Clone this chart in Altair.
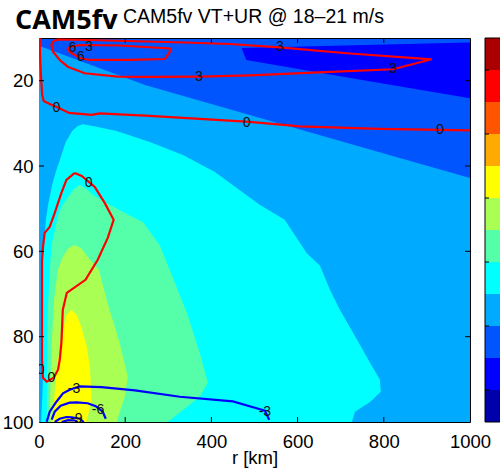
import altair as alt
import pandas as pd

# ---------------- axes / scales ----------------
x_ticks = [0, 200, 400, 600, 800, 1000]
y_ticks = [20, 40, 60, 80, 100]
x_domain = [0, 1000]
y_domain = [10, 100]

title_main = "CAM5fv"
title_sub = "CAM5fv VT+UR @ 18\u201321 m/s"
x_title = "r [km]"

# jet(12) colour levels, lowest first
jet12 = ["#0000AA", "#0000FF", "#0055FF", "#00AAFF", "#00FFFF", "#55FFAA",
         "#AAFF55", "#FFFF00", "#FFAA00", "#FF5500", "#FF0000", "#AA0000"]
background_level = "#0055FF"

# ---------------- filled VT regions (level, r_left, r_right) ----------------
lightblue_lev = [11.4, 12.04, 12.93, 17.1, 21.0, 28.06, 34.78, 42.79, 100]
lightblue_r1 = [0, 0, 0, 0, 0, 0, 0, 0, 0]
lightblue_r2 = [0, 5.6, 29.5, 141, 246, 489, 721, 1000, 1000]

darkblue_lev = [11.05, 11.4, 11.87, 12.34, 15.15, 20.0, 24.1]
darkblue_r1 = [997, 854, 662, 470, 481, 760, 1000]
darkblue_r2 = [1000, 1000, 1000, 1000, 1000, 1000, 1000]

cyan_lev = [30.2, 30.6, 31.8, 34.4, 37.4, 41.4, 44.0, 49.1, 52.6, 60.4, 63.4, 69.0,
            73.7, 80.7, 86.1, 90.1, 92.9, 95.3, 97.6, 100]
cyan_r1 = [102, 90, 77, 62, 52, 39, 31.5, 21, 16, 10, 9.3, 9.3,
           9.3, 9.3, 9.3, 9, 8, 7, 6, 5]
cyan_r2 = [102, 125, 180, 257, 334, 408, 443, 512, 570, 621, 652, 675,
           698, 738, 768, 791, 793, 768, 733, 726]

aqua_lev = [44.4, 45.5, 46.8, 49.1, 51.0, 53.1, 58.5, 66.0, 74.9, 83.8, 90.8, 94.1, 100]
aqua_r1 = [94, 80, 71, 55, 46, 41, 29, 24, 20, 19.5, 18.6, 18.3, 18]
aqua_r2 = [94, 112, 125, 164, 199, 241, 280, 310, 345, 373, 392, 373, 299]

ygreen_lev = [58.5, 59.3, 61.3, 64.3, 71.4, 81.4, 89.4, 94.1, 100]
ygreen_r1 = [83, 68, 55, 44, 35, 29.5, 27, 26, 25]
ygreen_r2 = [83, 98, 113, 139, 157, 187, 206, 199, 180]

yellow_lev = [73.7, 75.0, 77.7, 82.4, 87.1, 94.8, 100]
yellow_r1 = [75, 64, 57, 49, 41, 35, 32]
yellow_r2 = [75, 88, 98, 111, 118, 122, 110]

regions = [
    ("#00AAFF", lightblue_lev, lightblue_r1, lightblue_r2),
    ("#0000FF", darkblue_lev, darkblue_r1, darkblue_r2),
    ("#00FFFF", cyan_lev, cyan_r1, cyan_r2),
    ("#55FFAA", aqua_lev, aqua_r1, aqua_r2),
    ("#AAFF55", ygreen_lev, ygreen_r1, ygreen_r2),
    ("#FFFF00", yellow_lev, yellow_r1, yellow_r2),
]

# ---------------- UR contour lines ----------------
ur0a_r = [1.6, 2.8, 5.1, 7.4, 10.9, 24.8, 46.4, 69.6, 122.4, 140.9, 257, 373.1,
          489.3, 605.4, 791, 930.3, 1000]
ur0a_lev = [10, 15.15, 19.84, 23.35, 24.75, 25.46, 26.39, 27.56, 28.03, 27.68, 28.27,
            28.97, 29.67, 30.73, 31.31, 31.55, 31.67]

ur3_r = [44.1, 113.1, 338.3, 442.8, 558.9, 714.5, 911.1, 821.3, 635.5, 489.3, 373.1,
         257, 182.7, 106.1, 66.6, 48.1, 32.5, 28.8, 34.1, 44.1]
ur3_lev = [10.35, 10.47, 11.05, 11.41, 12.18, 13.58, 14.99, 17.33, 18.13, 18.78, 19.06,
           19.13, 19.06, 18.27, 16.72, 15.15, 13.21, 11.64, 10.70, 10.35]

ur6_r = [71.3, 94.5, 187.4, 303.5, 303.5, 292, 210.6, 117.7, 94.5, 71.3, 66.6, 71.3]
ur6_lev = [12.11, 11.64, 11.76, 12.46, 13.28, 14.92, 15.15, 15.15, 14.68, 13.28, 12.58, 12.11]

ur0b_r = [82.9, 99.1, 115.4, 129.3, 152.4, 173.2, 159.5, 136.3, 107.9, 64.5, 55.2, 52,
          48.1, 44.1, 34.1, 17.9, 9.3, 7, 7, 9.3, 13.2, 24.8, 36.5, 52, 63.6, 82.9]
ur0b_lev = [41.62, 42.32, 43.72, 44.90, 48.64, 52.62, 56.84, 61.99, 66.68, 69.72, 73.70,
            81.43, 85.41, 87.75, 89.63, 90.56, 89.63, 85.41, 61.99, 58.95, 55.67, 54.26,
            50.99, 46.30, 43.26, 41.62]

urm3_r = [17.9, 24.8, 40.4, 55.7, 71.3, 94.5, 144.9, 222.6, 327, 449.8, 504.8, 524.1, 534.1]
urm3_lev = [99.93, 97.59, 95.25, 93.26, 92.44, 91.67, 91.81, 92.60, 94.08, 95.18, 96.77,
            97.36, 99.5]

urm6_r = [29.5, 36.5, 50.3, 71.3, 87.6, 113.1, 131.6, 147.9, 154.9]
urm6_lev = [99.46, 97.59, 96.19, 95.48, 95.41, 95.60, 96.30, 97.59, 99.23]

urm9_r = [36.5, 48.1, 63.6, 75.9, 94.5, 103.8]
urm9_lev = [100, 99.23, 98.83, 98.88, 99.23, 100]

urm12_r = [52.7, 67.5, 82.9, 89.9]
urm12_lev = [100, 99.58, 99.65, 100]

contours = [
    ("0a", "#FF0000", ur0a_r, ur0a_lev),
    ("3", "#FF0000", ur3_r, ur3_lev),
    ("6", "#FF0000", ur6_r, ur6_lev),
    ("0b", "#FF0000", ur0b_r, ur0b_lev),
    ("-3", "#0000FF", urm3_r, urm3_lev),
    ("-6", "#0000FF", urm6_r, urm6_lev),
    ("-9", "#0000FF", urm9_r, urm9_lev),
    ("-12", "#0000FF", urm12_r, urm12_lev),
]

label_text = ["6", "6", "3", "3", "3", "3", "0", "0", "0", "0", "0", "0",
              "-3", "-3", "-6", "-9"]
label_r = [77.6, 96.8, 116.0, 558.9, 821.3, 370.8, 40.4, 481.6, 930.3, 115.4, 28.8, 4,
           81.3, 524, 137, 86.8]
label_lev = [12.41, 14.52, 12.0, 12.18, 17.33, 19.06, 26.46, 29.84, 31.55, 44.03, 89.70,
             87.92, 92.27, 97.75, 97.12, 99.3]

# colourbar bands (bottom to top) and its ticks
cb_lo = list(range(12))
cb_hi = [i + 1 for i in cb_lo]
cb_ticks = [1, 3, 5, 7, 9, 11]

# ---------------- build chart ----------------
W, H = 431, 384
FONT = "Liberation Sans"
xs = alt.Scale(domain=x_domain, nice=False, zero=False)
ys = alt.Scale(domain=y_domain, nice=False, zero=False, reverse=True)
xaxis = alt.Axis(values=x_ticks, title=x_title, format="d")
yaxis = alt.Axis(values=y_ticks, title=None, format="d")

layers = []
for color, levs, r1, r2 in regions:
    df = pd.DataFrame({"lev": levs, "r1": r1, "r2": r2})
    layers.append(
        alt.Chart(df).mark_area(orient="horizontal", color=color, clip=True).encode(
            y=alt.Y("lev:Q", scale=ys, axis=yaxis),
            x=alt.X("r1:Q", scale=xs, axis=xaxis),
            x2="r2:Q",
        )
    )

rows = []
for name, col, rr, ll in contours:
    for i, (r, l) in enumerate(zip(rr, ll)):
        rows.append({"seg": name, "i": i, "r": r, "lev": l, "col": col})
lines_df = pd.DataFrame(rows)
layers.append(
    alt.Chart(lines_df).mark_line(strokeWidth=2.2, clip=True).encode(
        x=alt.X("r:Q", scale=xs, axis=xaxis),
        y=alt.Y("lev:Q", scale=ys, axis=yaxis),
        detail="seg:N",
        order="i:Q",
        color=alt.Color("col:N", scale=None),
    )
)

lab_df = pd.DataFrame({"t": label_text, "r": label_r, "lev": label_lev})
layers.append(
    alt.Chart(lab_df).mark_text(font=FONT, fontSize=14, color="#101010",
                                align="center", baseline="middle", clip=True).encode(
        x=alt.X("r:Q", scale=xs, axis=xaxis),
        y=alt.Y("lev:Q", scale=ys, axis=yaxis),
        text="t:N",
    )
)

# inward ticks (MATLAB style)
xt_df = pd.DataFrame({"v": x_ticks[1:-1]})
yt_df = pd.DataFrame({"v": y_ticks[:-1]})
for y0, y1 in [(H, H - 5), (0, 5)]:
    layers.append(
        alt.Chart(xt_df).mark_rule(color="black", strokeWidth=1).encode(
            x=alt.X("v:Q", scale=xs, axis=xaxis), y=alt.value(y0), y2=alt.value(y1)
        )
    )
for x0, x1 in [(0, 5), (W, W - 5)]:
    layers.append(
        alt.Chart(yt_df).mark_rule(color="black", strokeWidth=1).encode(
            y=alt.Y("v:Q", scale=ys, axis=yaxis), x=alt.value(x0), x2=alt.value(x1)
        )
    )

# titles
layers.append(
    alt.Chart(pd.DataFrame({"t": [title_main]})).mark_text(
        font="Open Sans", fontWeight="bold", fontSize=27, align="left",
        baseline="alphabetic", color="black").encode(
        x=alt.value(-24), y=alt.value(-8.7), text="t:N")
)
layers.append(
    alt.Chart(pd.DataFrame({"t": [title_sub]})).mark_text(
        font=FONT, fontSize=19.5, align="left", baseline="alphabetic",
        color="black").encode(
        x=alt.value(84), y=alt.value(-14.7), text="t:N")
)

main = alt.layer(*layers)

# colourbar
cbs = alt.Scale(domain=[0, 12], nice=False, zero=False)
cb_df = pd.DataFrame({"lo": cb_lo, "hi": cb_hi, "c": jet12})
cb = alt.Chart(cb_df).mark_rect().encode(
    x=alt.value(446), x2=alt.value(480),
    y=alt.Y("lo:Q", scale=cbs, axis=None), y2="hi:Q",
    color=alt.Color("c:N", scale=None),
)
cbt = alt.Chart(pd.DataFrame({"p": cb_ticks})).mark_rule(color="black").encode(
    x=alt.value(446), x2=alt.value(450), y=alt.Y("p:Q", scale=cbs, axis=None)
)
cbf = alt.Chart(pd.DataFrame({"p": [0]})).mark_rect(
    filled=False, stroke="black", strokeWidth=1).encode(
    x=alt.value(446), x2=alt.value(480), y=alt.value(0), y2=alt.value(H)
)
cbar = alt.layer(cb, cbt, cbf)

chart = (
    alt.layer(main, cbar)
    .resolve_scale(y="independent")
    .properties(
        width=W, height=H,
        padding={"left": 39, "top": 38, "right": 30, "bottom": 46},
        autosize=alt.AutoSizeParams(type="none"),
        background="white",
    )
    .configure_view(fill=background_level, stroke="black", strokeWidth=1)
    .configure_axis(
        labelFont=FONT, labelFontSize=18.5, labelColor="black",
        titleFont=FONT, titleFontSize=18.5, titleFontWeight="normal", titleColor="black",
        ticks=False, domain=False, grid=False, labelFlush=False, labelOverlap=False,
        labelBound=False,
    )
    .configure_axisX(labelPadding=10, titleBaseline="alphabetic", titleY=41)
    .configure_axisY(labelPadding=6)
)

chart.save("out.html", embed_options={"renderer": "svg", "actions": False})
